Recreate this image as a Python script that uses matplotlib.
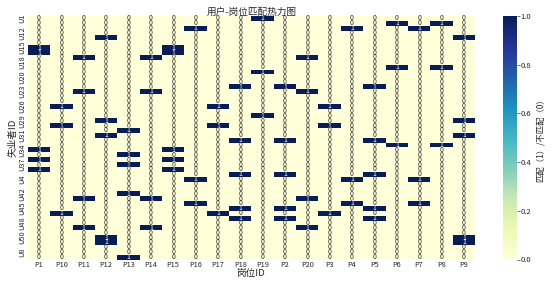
import numpy as np
import pandas as pd
import matplotlib
matplotlib.use("Agg")
import matplotlib.pyplot as plt
import seaborn as sns

# Job seekers and posts (IDs sorted as strings, the way a pivot table orders them)
users = sorted([f"U{i}" for i in range(1, 51)])
posts = sorted([f"P{i}" for i in range(1, 21)])

# Users that match each post
matches_P1 = ["U15", "U16", "U34", "U36", "U38"]
matches_P10 = ["U26", "U3", "U46"]
matches_P11 = ["U17", "U23", "U43", "U49"]
matches_P12 = ["U13", "U29", "U31", "U50", "U6"]
matches_P13 = ["U30", "U35", "U37", "U42", "U9"]
matches_P14 = ["U17", "U23", "U43", "U49"]
matches_P15 = ["U15", "U16", "U34", "U36", "U38"]
matches_P16 = ["U11", "U4", "U44"]
matches_P17 = ["U26", "U3", "U46"]
matches_P18 = ["U22", "U32", "U39", "U45", "U47"]
matches_P19 = ["U1", "U2", "U28"]
matches_P2 = ["U22", "U32", "U39", "U45", "U47"]
matches_P20 = ["U17", "U23", "U43", "U49"]
matches_P3 = ["U26", "U3", "U46"]
matches_P4 = ["U11", "U4", "U44"]
matches_P5 = ["U22", "U32", "U39", "U45", "U47"]
matches_P6 = ["U10", "U19", "U33"]
matches_P7 = ["U11", "U4", "U44"]
matches_P8 = ["U10", "U19", "U33"]
matches_P9 = ["U13", "U29", "U31", "U50", "U6"]

post_matches = {
    "P1": matches_P1, "P10": matches_P10, "P11": matches_P11, "P12": matches_P12,
    "P13": matches_P13, "P14": matches_P14, "P15": matches_P15, "P16": matches_P16,
    "P17": matches_P17, "P18": matches_P18, "P19": matches_P19, "P2": matches_P2,
    "P20": matches_P20, "P3": matches_P3, "P4": matches_P4, "P5": matches_P5,
    "P6": matches_P6, "P7": matches_P7, "P8": matches_P8, "P9": matches_P9,
}

# Build the 0/1 match matrix
matrix = pd.DataFrame(0, index=users, columns=posts, dtype=int)
for post, ulist in post_matches.items():
    for u in ulist:
        matrix.loc[u, post] = 1

sns.set_theme(style="white")
plt.rcParams["font.family"] = ["Noto Sans CJK SC", "DejaVu Sans"]
plt.rcParams["axes.unicode_minus"] = False

W, H = 554, 292
dpi = W / 12.0
fig = plt.figure(figsize=(W / dpi, H / dpi), dpi=dpi)
ax = fig.add_axes([27.8 / W, 1 - 259.5 / H, (475.0 - 27.8) / W, (259.5 - 16.0) / H])
cax = fig.add_axes([503.0 / W, 1 - 259.5 / H, 14.0 / W, (259.5 - 16.0) / H])

sns.heatmap(
    matrix, ax=ax, cbar_ax=cax, cmap="YlGnBu", annot=True, fmt="d",
    annot_kws={"fontsize": 10.5},
    vmin=0, vmax=1, yticklabels=3,
    cbar_kws={"label": "匹配（1）/不匹配（0）"},
)

ax.set_title("用户-岗位匹配热力图", fontsize=15, pad=2)
ax.set_xlabel("岗位ID", fontsize=15, labelpad=0)
ax.set_ylabel("失业者ID", fontsize=15, labelpad=1)
ax.tick_params(axis="both", length=0, labelsize=11.5, colors="#262626", pad=3)
plt.setp(ax.get_xticklabels(), rotation=0)
plt.setp(ax.get_yticklabels(), rotation=90, va="center")

cax.tick_params(length=4, width=1, colors="#262626", labelsize=12, pad=2)
cax.yaxis.label.set_size(13)
cax.yaxis.labelpad = 7

fig.savefig("out.png", dpi=dpi)
